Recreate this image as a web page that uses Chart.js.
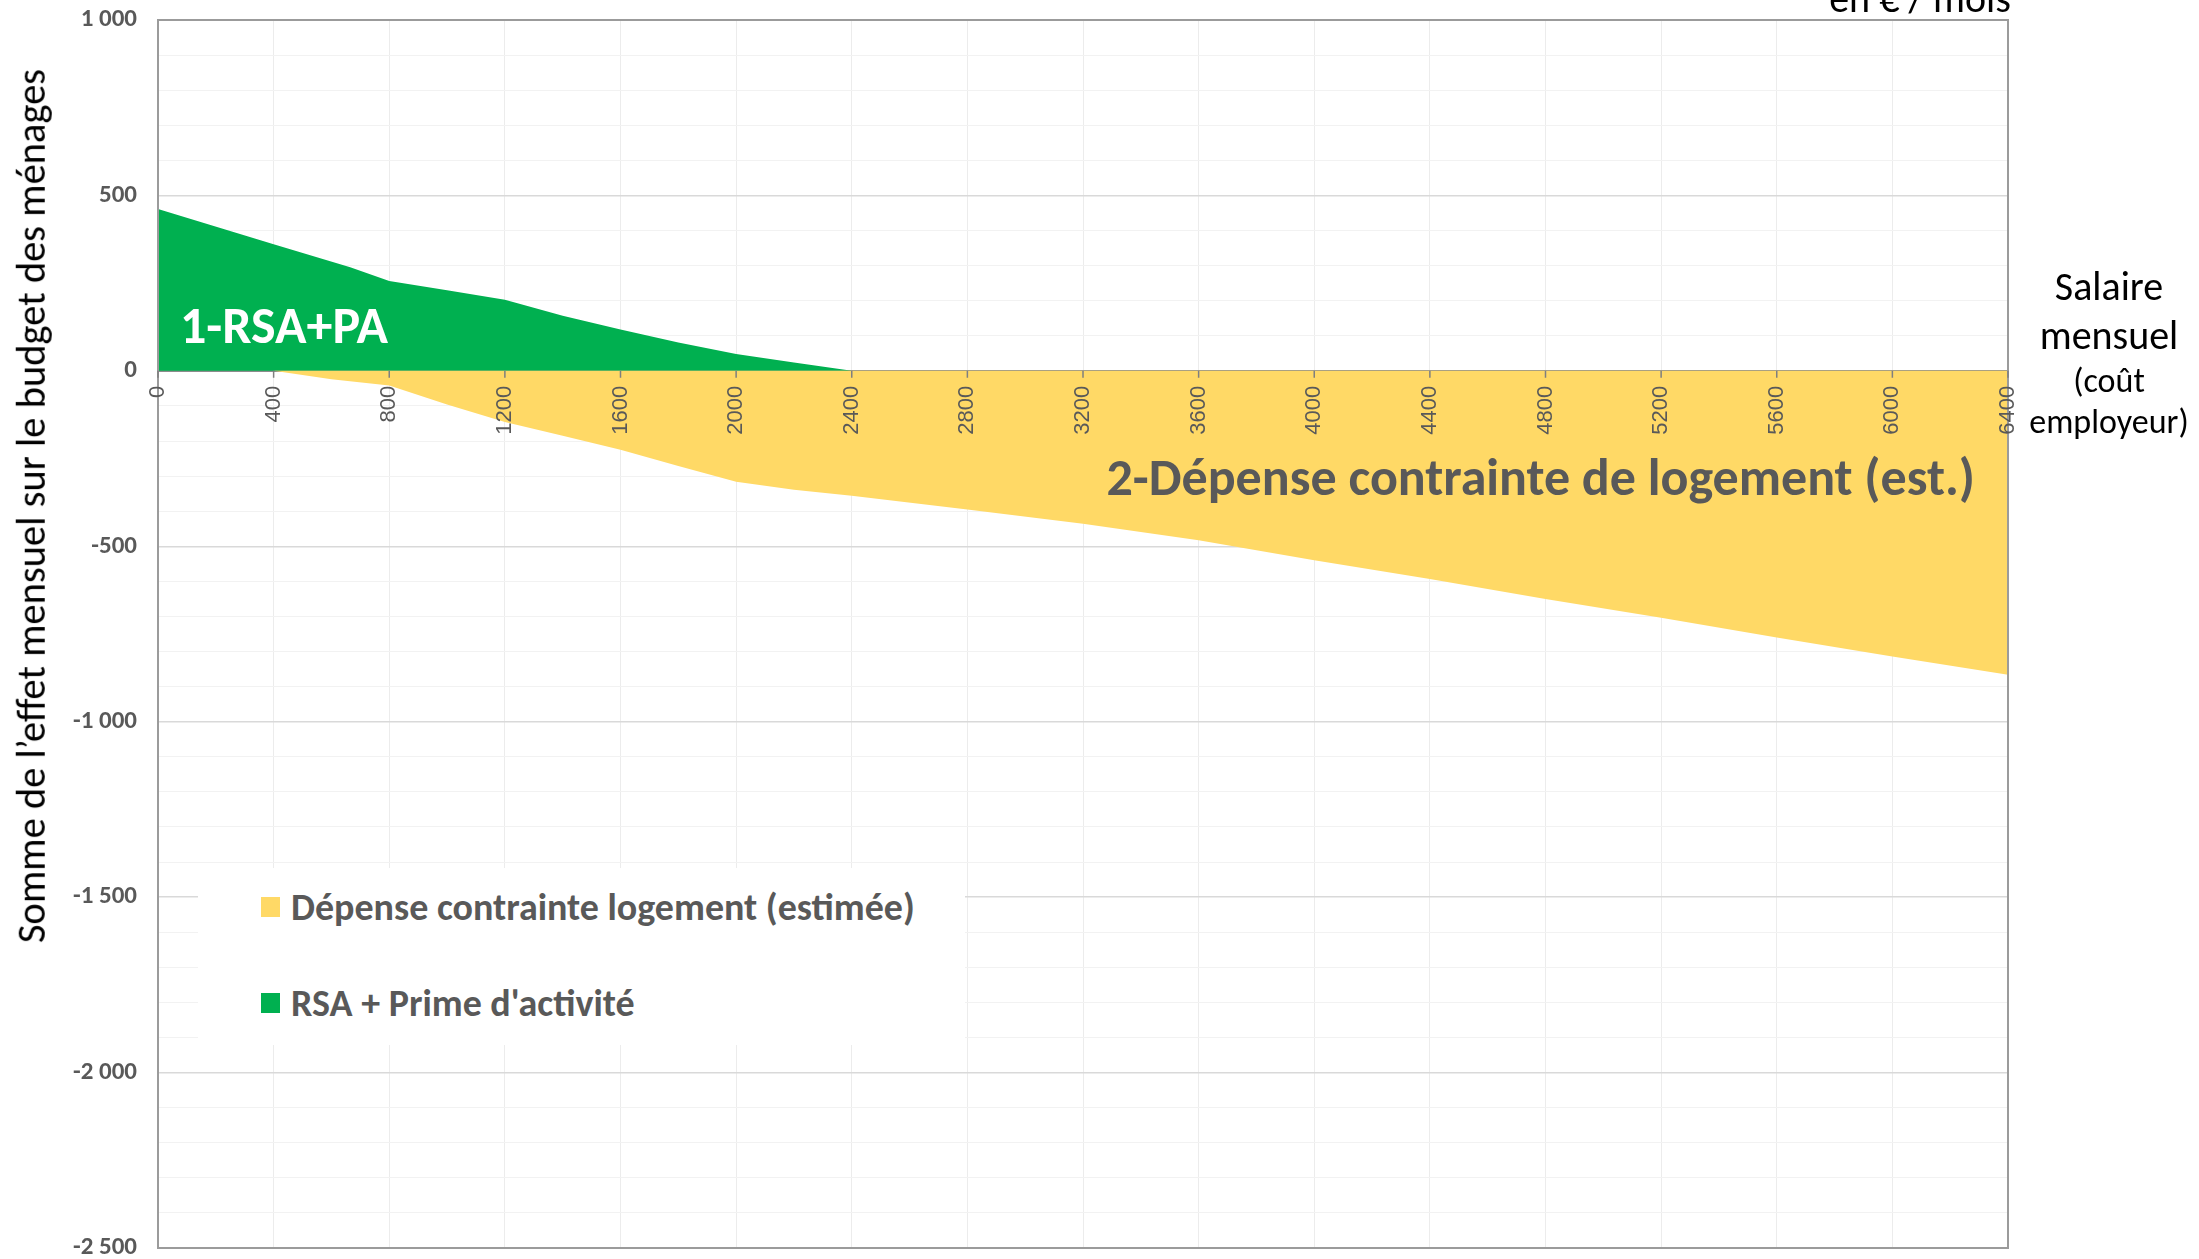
<!DOCTYPE html>
<html lang="fr">
<head>
    <meta charset="UTF-8">
    <title>RSA + PA et dépense contrainte de logement</title>
    <script src="https://cdn.jsdelivr.net/npm/chart.js"></script>
    <style>
        body { margin: 0; background: #fff; overflow: hidden; }
        #wrap { position: relative; width: 2199px; height: 1259px; overflow: hidden; font-family: Carlito, Lato, "Open Sans", sans-serif; }
        #wrap canvas { position: absolute; left: 0; top: 0; }
        .note { position: absolute; white-space: nowrap; line-height: 1; }
        #rsaNote { left: 180px; top: 325px; transform: translateY(-50%); color: #fff; font-weight: 700; font-size: 52px; }
        #logNote { right: 224px; top: 477px; transform: translateY(-50%); color: #595959; font-weight: 700; font-size: 52px; }
        #unitNote { left: 1920px; top: -21px; transform: translateX(-50%); color: #000; font-size: 40px; }
        #xTitle { left: 2109px; top: 262px; transform: translateX(-50%); text-align: center; color: #000; }
        #xTitle .big { font-size: 40px; display: block; line-height: 49px; }
        #xTitle .small { font-size: 34px; display: block; line-height: 41px; }
        #yTitle { left: 31px; top: 506px; transform: translate(-50%, -50%) rotate(-90deg); color: #000; font-size: 40.5px; }
        #legend { position: absolute; left: 198px; top: 868px; width: 767px; height: 177px; background: #fff; }
        .item { position: absolute; left: 63px; height: 40px; display: flex; align-items: center; color: #595959; font-weight: 700; font-size: 38px; white-space: nowrap; }
        .item span.box { width: 19px; height: 20px; margin-right: 11px; display: inline-block; }
    </style>
</head>
<body>
    <div id="wrap">
        <canvas id="chart" width="2199" height="1259"></canvas>
        <div class="note" id="unitNote">en € / mois</div>
        <div class="note" id="rsaNote">1-RSA+PA</div>
        <div class="note" id="logNote">2-Dépense contrainte de logement (est.)</div>
        <div class="note" id="xTitle"><span class="big">Salaire</span><span class="big">mensuel</span><span class="small">(coût</span><span class="small">employeur)</span></div>
        <div class="note" id="yTitle">Somme de l’effet mensuel sur le budget des ménages</div>
        <div id="legend"></div>
    </div>

    <script>
        // salaire mensuel (coût employeur), en € / mois
        const salaryRsa = [0, 400, 665, 800, 1000, 1200, 1400, 1600, 1800, 2000, 2200, 2400];
        const rsaPa = [461, 361, 295, 256, 230, 203, 157, 118, 81, 48, 24, 0];

        const salaryLog = [0, 400, 600, 800, 1000, 1200, 1400, 1600, 1800, 2000, 2200, 2400, 2800, 3200, 3600, 4000, 4400, 4800, 5200, 5600, 6000, 6400];
        const logement = [0, 0, -24, -42, -96, -146, -185, -225, -271, -316, -339, -356, -395, -436, -483, -540, -593, -650, -704, -760, -814, -866];

        const xTicks = [0, 400, 800, 1200, 1600, 2000, 2400, 2800, 3200, 3600, 4000, 4400, 4800, 5200, 5600, 6000, 6400];
        const yLabelled = [1000, 500, 0, -500, -1000, -1500, -2000, -2500];
        const yLabels = ['1 000', '500', '0', '-500', '-1 000', '-1 500', '-2 000', '-2 500'];

        const colLog = '#FFD966';
        const colRsa = '#00B050';

        function toPoints(xs, ys) {
            return xs.map((x, i) => ({ x: x, y: ys[i] }));
        }

        // frame around the plot area + tick marks on the zero axis
        const framePlugin = {
            id: 'frame',
            afterDatasetsDraw(chart) {
                const { ctx, chartArea: a, scales } = chart;
                const y0 = scales.y.getPixelForValue(0);
                ctx.save();
                ctx.strokeStyle = '#9b9b9b';
                ctx.lineWidth = 2;
                ctx.strokeRect(a.left, a.top, a.right - a.left, a.bottom - a.top);
                ctx.strokeStyle = '#7f7f7f';
                ctx.lineWidth = 1.5;
                ctx.beginPath();
                scales.x.ticks.forEach(t => {
                    const px = scales.x.getPixelForValue(t.value);
                    ctx.moveTo(px, y0);
                    ctx.lineTo(px, y0 + 7);
                });
                ctx.stroke();
                ctx.restore();
            }
        };

        const ctx = document.getElementById('chart').getContext('2d');
        const chart = new Chart(ctx, {
            type: 'line',
            data: {
                datasets: [{
                    label: 'Dépense contrainte logement (estimée)',
                    data: toPoints(salaryLog, logement),
                    backgroundColor: colLog,
                    borderColor: 'rgba(0,0,0,0)',
                    borderWidth: 1,
                    pointRadius: 0,
                    fill: 'origin',
                    tension: 0
                }, {
                    label: "RSA + Prime d'activité",
                    data: toPoints(salaryRsa, rsaPa),
                    backgroundColor: colRsa,
                    borderColor: 'rgba(0,0,0,0)',
                    borderWidth: 1,
                    pointRadius: 0,
                    fill: 'origin',
                    tension: 0
                }]
            },
            options: {
                responsive: false,
                animation: false,
                devicePixelRatio: 1,
                layout: { padding: { left: 0, right: 191, top: 20, bottom: 11 } },
                plugins: { legend: { display: false }, tooltip: { enabled: false } },
                scales: {
                    x: {
                        type: 'linear',
                        position: { y: 0 },
                        min: 0,
                        max: 6400,
                        afterBuildTicks: scale => { scale.ticks = xTicks.map(v => ({ value: v })); },
                        grid: { color: '#ececec', lineWidth: 1, drawTicks: false },
                        border: { display: false },
                        ticks: {
                            z: 1,
                            autoSkip: false,
                            minRotation: 90,
                            maxRotation: 90,
                            padding: 15,
                            color: '#595959',
                            font: { family: '"Liberation Sans", Arial, sans-serif', size: 22 },
                            callback: v => String(v)
                        }
                    },
                    y: {
                        min: -2500,
                        max: 1000,
                        afterFit: scale => { scale.width = 158; },
                        grid: {
                            drawTicks: true,
                            tickLength: 21,
                            tickColor: 'rgba(0,0,0,0)',
                            color: c => c.tick.value === 0 ? '#8c8c8c' : (c.tick.value % 500 === 0 ? '#d9d9d9' : '#f2f2f2'),
                            lineWidth: c => c.tick.value === 0 ? 2 : (c.tick.value % 500 === 0 ? 1.5 : 1)
                        },
                        border: { display: false },
                        ticks: {
                            stepSize: 100,
                            autoSkip: false,
                            padding: 0,
                            color: '#595959',
                            font: { family: 'Carlito, Lato, "Open Sans", sans-serif', size: 25, weight: 'bold', lineHeight: 0.8 },
                            callback: v => {
                                const i = yLabelled.indexOf(v);
                                return i >= 0 ? yLabels[i] : '';
                            }
                        }
                    }
                }
            },
            plugins: [framePlugin]
        });

        // legend inside the plot, yellow first
        const legend = document.getElementById('legend');
        chart.data.datasets.forEach((ds, i) => {
            const item = document.createElement('div');
            item.className = 'item';
            item.style.top = (i === 0 ? 19 : 115) + 'px';
            const box = document.createElement('span');
            box.className = 'box';
            box.style.background = ds.backgroundColor;
            item.appendChild(box);
            item.appendChild(document.createTextNode(ds.label));
            legend.appendChild(item);
        });
    </script>
</body>
</html>
